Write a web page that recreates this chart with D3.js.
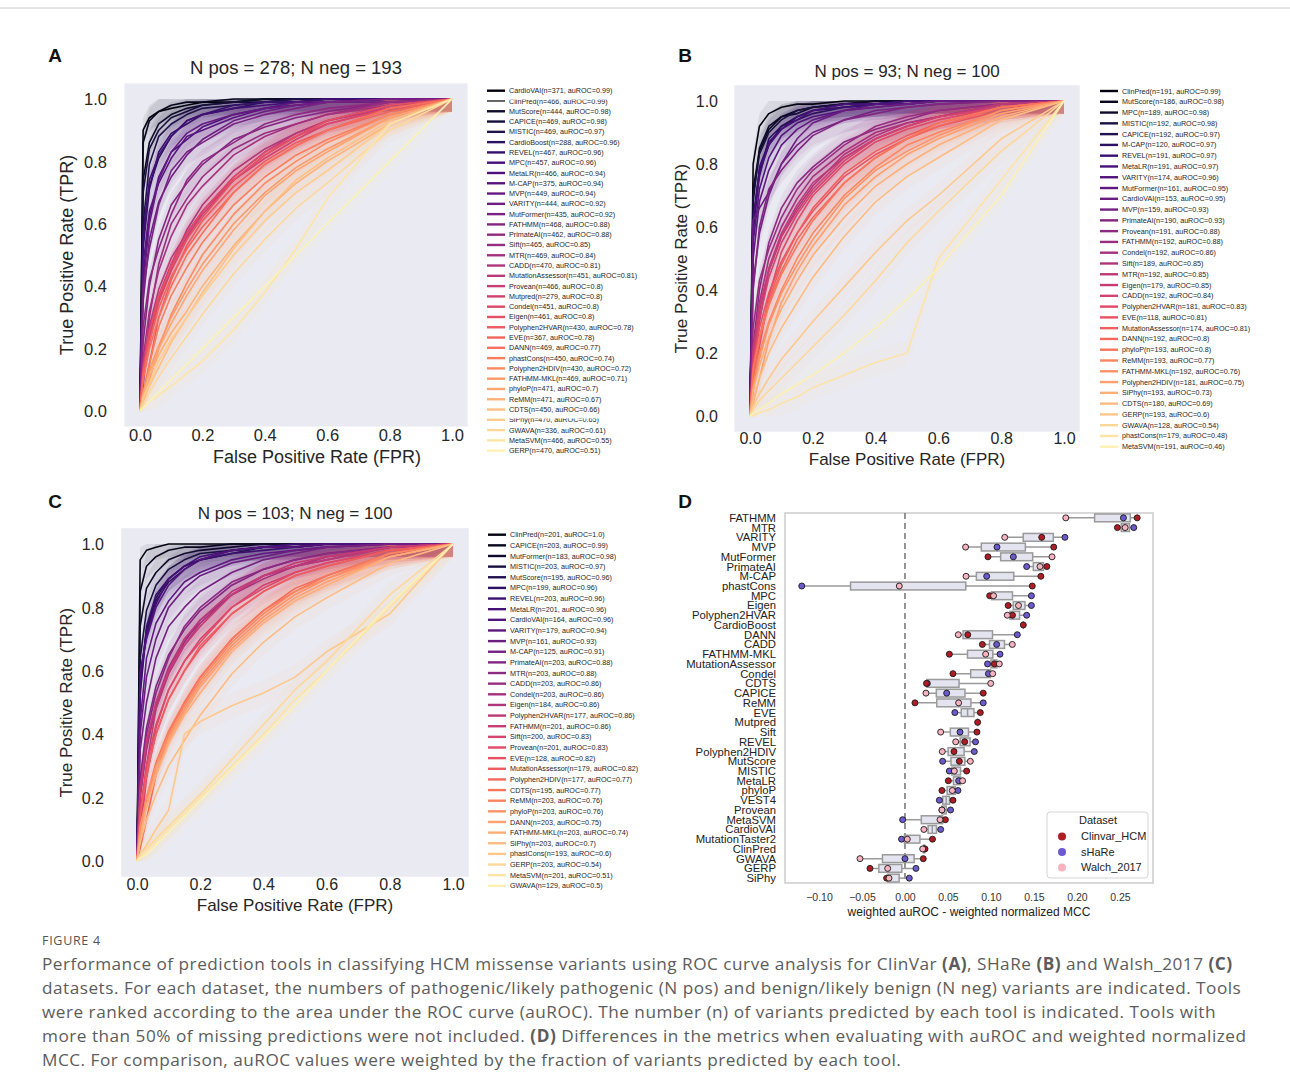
<!DOCTYPE html>
<html>
<head>
<meta charset="utf-8">
<script src="https://cdn.jsdelivr.net/npm/d3@7"></script>
<style>
body { margin: 0; background: #fff; }
text { font-family: "Liberation Sans", Arial, sans-serif; }
</style>
</head>
<body>
<svg id="fig" width="1290" height="1092"></svg>
<script>
var fprGrid = [0, 0.01, 0.03, 0.06, 0.1, 0.15, 0.2, 0.3, 0.4, 0.5, 0.6, 0.8, 1];

// panel A - ClinVar
var toolsA = ["CardioVAI","ClinPred","MutScore","CAPICE","MISTIC","CardioBoost","REVEL","MPC","MetaLR","M-CAP","MVP","VARITY","MutFormer","FATHMM","PrimateAI","Sift","MTR","CADD","MutationAssessor","Provean","Mutpred","Condel","Eigen","Polyphen2HVAR","EVE","DANN","phastCons","Polyphen2HDIV","FATHMM-MKL","phyloP","ReMM","CDTS","SiPhy","GWAVA","MetaSVM","GERP"];
var nA = [371,466,444,469,469,288,467,457,466,375,449,444,435,468,462,465,469,470,451,466,279,451,461,430,367,469,450,430,469,471,471,450,470,336,466,470];
var aucA = ["0.99","0.99","0.98","0.98","0.97","0.96","0.96","0.96","0.94","0.94","0.94","0.92","0.92","0.88","0.88","0.85","0.84","0.81","0.81","0.8","0.8","0.8","0.8","0.78","0.78","0.77","0.74","0.72","0.71","0.7","0.67","0.66","0.65","0.61","0.55","0.51"];
var tprA = [
  [0,.9,.94,.96,.97,.98,.99,.99,1,1,1,1,1],
  [0,.86,.93,.96,.98,.99,.99,1,1,1,1,1,1],
  [0,.74,.86,.92,.95,.97,.98,.99,1,1,1,1,1],
  [0,.7,.84,.9,.94,.96,.98,.99,.99,1,1,1,1],
  [0,.6,.79,.88,.92,.95,.97,.98,.99,1,1,1,1],
  [0,.58,.72,.81,.88,.93,.95,.97,.99,.99,1,1,1],
  [0,.52,.71,.83,.89,.92,.95,.98,.99,.99,1,1,1],
  [0,.55,.74,.82,.88,.93,.95,.97,.98,.99,1,1,1],
  [0,.43,.62,.75,.83,.87,.91,.95,.97,.98,.99,1,1],
  [0,.47,.64,.73,.81,.88,.9,.94,.97,.99,.99,1,1],
  [0,.4,.6,.74,.83,.89,.92,.95,.97,.98,.99,1,1],
  [0,.35,.55,.67,.75,.82,.87,.93,.96,.98,.99,.99,1],
  [0,.39,.52,.66,.77,.83,.86,.92,.95,.97,.99,1,1],
  [0,.22,.4,.55,.66,.73,.79,.87,.91,.94,.96,.99,1],
  [0,.27,.42,.52,.63,.74,.8,.86,.92,.95,.97,.99,1],
  [0,.08,.3,.47,.6,.68,.75,.84,.89,.92,.95,.99,1],
  [0,.17,.32,.45,.56,.66,.72,.82,.88,.92,.95,.98,1],
  [0,.13,.25,.37,.47,.58,.66,.77,.84,.89,.93,.98,1],
  [0,.15,.27,.39,.49,.57,.64,.75,.83,.89,.93,.97,1],
  [0,.12,.24,.36,.46,.56,.63,.74,.82,.88,.93,.98,1],
  [0,.14,.26,.35,.45,.55,.64,.74,.81,.87,.92,.97,1],
  [0,.1,.22,.35,.47,.57,.64,.75,.83,.88,.92,.97,1],
  [0,.13,.25,.37,.46,.55,.62,.74,.82,.88,.93,.98,1],
  [0,.05,.15,.3,.42,.53,.61,.72,.8,.86,.9,.97,1],
  [0,.12,.22,.33,.43,.52,.59,.7,.79,.85,.9,.96,1],
  [0,.1,.2,.3,.4,.5,.57,.7,.79,.85,.9,.97,1],
  [0,.05,.15,.27,.37,.46,.54,.66,.75,.82,.87,.95,1],
  [0,.03,.1,.2,.31,.41,.5,.63,.73,.8,.86,.95,1],
  [0,.06,.13,.21,.3,.39,.47,.6,.7,.78,.84,.94,1],
  [0,.05,.12,.2,.28,.37,.45,.58,.69,.77,.83,.94,1],
  [0,.05,.11,.18,.25,.32,.4,.53,.64,.73,.8,.92,1],
  [0,.03,.08,.14,.22,.3,.38,.52,.64,.74,.81,.93,1],
  [0,.04,.09,.16,.23,.3,.37,.5,.61,.7,.77,.92,1],
  [0,.02,.06,.11,.17,.24,.31,.44,.55,.65,.73,.9,1],
  [0,.01,.03,.05,.08,.12,.16,.26,.38,.52,.68,.92,1],
  [0,.01,.03,.06,.1,.15,.2,.3,.4,.5,.6,.8,1]
];

// panel B - SHaRe
var toolsB = ["ClinPred","MutScore","MPC","MISTIC","CAPICE","M-CAP","REVEL","MetaLR","VARITY","MutFormer","CardioVAI","MVP","PrimateAI","Provean","FATHMM","Condel","Sift","MTR","Eigen","CADD","Polyphen2HVAR","EVE","MutationAssessor","DANN","phyloP","ReMM","FATHMM-MKL","Polyphen2HDIV","SiPhy","CDTS","GERP","GWAVA","phastCons","MetaSVM"];
var nB = [191,186,189,192,192,120,191,191,174,161,153,159,190,191,192,192,189,192,179,192,181,118,174,192,193,193,192,181,193,180,193,128,179,191];
var aucB = ["0.99","0.98","0.98","0.98","0.97","0.97","0.97","0.97","0.96","0.95","0.95","0.93","0.93","0.88","0.88","0.86","0.85","0.85","0.85","0.84","0.83","0.81","0.81","0.8","0.8","0.77","0.76","0.75","0.73","0.69","0.6","0.54","0.48","0.46"];
var tprB = [
  [0,.8,.92,.96,.98,.99,.99,1,1,1,1,1,1],
  [0,.72,.84,.91,.95,.97,.98,.99,1,1,1,1,1],
  [0,.68,.85,.92,.95,.96,.98,.99,1,1,1,1,1],
  [0,.7,.83,.9,.94,.97,.98,.99,.99,1,1,1,1],
  [0,.63,.78,.86,.92,.95,.97,.98,.99,1,1,1,1],
  [0,.6,.76,.88,.92,.94,.96,.98,.99,1,1,1,1],
  [0,.58,.79,.87,.91,.95,.97,.98,.99,.99,1,1,1],
  [0,.62,.77,.86,.91,.94,.97,.99,.99,1,1,1,1],
  [0,.55,.72,.82,.89,.93,.95,.97,.99,.99,1,1,1],
  [0,.5,.68,.78,.86,.91,.94,.97,.98,.99,1,1,1],
  [0,.62,.66,.71,.8,.88,.93,.97,.98,.99,1,1,1],
  [0,.42,.58,.7,.8,.86,.9,.94,.97,.98,.99,1,1],
  [0,.4,.6,.72,.78,.84,.89,.94,.96,.98,.99,1,1],
  [0,.22,.4,.55,.66,.74,.79,.87,.91,.94,.97,.99,1],
  [0,.28,.43,.53,.63,.72,.78,.86,.92,.95,.97,.99,1],
  [0,.2,.36,.5,.6,.69,.76,.84,.9,.93,.95,.99,1],
  [0,.1,.3,.46,.57,.66,.73,.83,.89,.93,.95,.99,1],
  [0,.18,.33,.47,.58,.67,.74,.82,.88,.92,.95,.99,1],
  [0,.21,.35,.46,.57,.65,.72,.82,.88,.92,.95,.98,1],
  [0,.17,.31,.44,.55,.64,.71,.81,.88,.92,.95,.98,1],
  [0,.08,.22,.38,.52,.62,.7,.8,.87,.91,.94,.98,1],
  [0,.16,.28,.39,.49,.58,.65,.76,.83,.88,.92,.97,1],
  [0,.13,.25,.37,.48,.58,.66,.77,.84,.89,.93,.98,1],
  [0,.12,.24,.36,.46,.56,.63,.74,.82,.88,.92,.98,1],
  [0,.15,.25,.35,.45,.54,.62,.74,.82,.88,.93,.98,1],
  [0,.1,.2,.3,.4,.5,.58,.7,.79,.86,.9,.97,1],
  [0,.09,.18,.29,.39,.48,.56,.69,.78,.84,.89,.97,1],
  [0,.04,.12,.24,.36,.46,.54,.67,.76,.83,.88,.96,1],
  [0,.08,.16,.25,.34,.43,.51,.63,.73,.8,.86,.95,1],
  [0,.05,.12,.2,.28,.36,.44,.57,.68,.76,.82,.94,1],
  [0,.03,.07,.12,.18,.24,.3,.41,.52,.62,.7,.88,1],
  [0,.02,.05,.08,.12,.17,.22,.32,.43,.55,.65,.84,1],
  [0,0,.01,.02,.04,.06,.09,.13,.17,.2,.5,.75,1],
  [0,.01,.02,.04,.07,.1,.13,.2,.28,.37,.47,.7,1]
];

// panel C - Walsh_2017
var toolsC = ["ClinPred","CAPICE","MutFormer","MISTIC","MutScore","MPC","REVEL","MetaLR","CardioVAI","VARITY","MVP","M-CAP","PrimateAI","MTR","CADD","Condel","Eigen","Polyphen2HVAR","FATHMM","Sift","Provean","EVE","MutationAssessor","Polyphen2HDIV","CDTS","ReMM","phyloP","DANN","FATHMM-MKL","SiPhy","phastCons","GERP","MetaSVM","GWAVA"];
var nC = [201,203,183,203,195,199,203,201,164,179,161,125,203,203,203,203,184,177,201,200,201,128,179,177,195,203,203,203,203,203,193,203,201,129];
var aucC = ["1.0","0.99","0.98","0.97","0.96","0.96","0.96","0.96","0.96","0.94","0.93","0.91","0.88","0.88","0.86","0.86","0.86","0.86","0.86","0.83","0.83","0.82","0.82","0.77","0.77","0.76","0.76","0.75","0.74","0.7","0.6","0.54","0.51","0.5"];
var tprC = [
  [0,.95,.98,.99,1,1,1,1,1,1,1,1,1],
  [0,.85,.93,.96,.98,.99,.99,1,1,1,1,1,1],
  [0,.74,.86,.91,.95,.97,.98,.99,1,1,1,1,1],
  [0,.64,.79,.87,.92,.95,.97,.98,.99,1,1,1,1],
  [0,.55,.73,.83,.89,.93,.95,.97,.99,.99,1,1,1],
  [0,.58,.72,.82,.88,.92,.95,.98,.99,.99,1,1,1],
  [0,.52,.74,.84,.89,.93,.95,.97,.98,.99,1,1,1],
  [0,.57,.71,.81,.89,.93,.96,.98,.99,1,1,1,1],
  [0,.6,.7,.8,.87,.92,.95,.98,.99,.99,1,1,1],
  [0,.44,.64,.75,.82,.88,.91,.95,.97,.98,.99,1,1],
  [0,.4,.58,.7,.8,.86,.9,.94,.96,.98,.99,1,1],
  [0,.35,.5,.64,.74,.8,.85,.91,.95,.97,.99,1,1],
  [0,.26,.42,.55,.65,.73,.79,.87,.92,.95,.97,.99,1],
  [0,.24,.4,.53,.64,.74,.8,.88,.92,.95,.97,.99,1],
  [0,.21,.36,.49,.6,.69,.76,.84,.9,.93,.96,.99,1],
  [0,.2,.35,.5,.61,.7,.75,.84,.89,.93,.95,.99,1],
  [0,.23,.37,.48,.59,.68,.75,.84,.9,.93,.96,.99,1],
  [0,.1,.3,.48,.6,.7,.76,.85,.9,.93,.95,.99,1],
  [0,.22,.38,.5,.6,.68,.74,.84,.9,.94,.96,.99,1],
  [0,.08,.26,.42,.54,.63,.7,.8,.87,.91,.94,.98,1],
  [0,.16,.3,.43,.54,.63,.69,.8,.86,.91,.94,.98,1],
  [0,.15,.28,.4,.51,.6,.67,.78,.85,.9,.93,.98,1],
  [0,.14,.27,.4,.51,.6,.68,.78,.85,.9,.93,.98,1],
  [0,.04,.13,.27,.4,.5,.58,.7,.79,.86,.9,.97,1],
  [0,.1,.2,.31,.41,.5,.58,.7,.79,.85,.9,.97,1],
  [0,.09,.19,.3,.4,.49,.57,.69,.78,.85,.89,.97,1],
  [0,.11,.2,.3,.39,.48,.56,.68,.77,.84,.89,.96,1],
  [0,.08,.18,.28,.38,.47,.55,.67,.76,.83,.88,.96,1],
  [0,.07,.17,.27,.37,.46,.53,.66,.75,.82,.87,.96,1],
  [0,.06,.13,.21,.3,.38,.46,.59,.69,.77,.83,.94,1],
  [0,.02,.05,.1,.16,.4,.44,.49,.53,.58,.66,.78,1],
  [0,.02,.04,.07,.11,.16,.21,.32,.43,.54,.63,.84,1],
  [0,.01,.03,.06,.1,.15,.2,.3,.4,.51,.6,.8,1],
  [0,.01,.02,.05,.09,.14,.19,.29,.39,.49,.6,.81,1]
];

// panel D - weighted auROC minus weighted normalized MCC, per dataset
var dTools = ["FATHMM","MTR","VARITY","MVP","MutFormer","PrimateAI","M-CAP","phastCons","MPC","Eigen","Polyphen2HVAR","CardioBoost","DANN","CADD","FATHMM-MKL","MutationAssessor","Condel","CDTS","CAPICE","ReMM","EVE","Mutpred","Sift","REVEL","Polyphen2HDIV","MutScore","MISTIC","MetaLR","phyloP","VEST4","Provean","MetaSVM","CardioVAI","MutationTaster2","ClinPred","GWAVA","GERP","SiPhy"];
var dClinvar = [0.270,0.247,0.159,0.173,0.0965,0.165,0.158,0.148,0.0985,0.120,0.125,0.1376,0.073,0.090,0.0516,0.104,0.0558,0.025,0.091,0.0116,0.0876,0.0845,0.0837,0.0694,0.057,0.0632,0.0717,0.0504,0.043,0.0558,0.043,0.047,null,0.032,0.0233,0.0213,-0.0407,-0.0213];
var dShare = [0.254,0.266,0.186,0.107,0.126,0.1415,0.095,-0.120,0.147,0.147,0.1415,null,0.1306,0.1066,0.1105,0.096,0.097,0.026,0.0485,0.091,0.058,null,0.064,0.082,0.0806,0.0438,0.0516,0.0624,0.0616,0.040,0.053,-0.0027,0.0415,-0.004,0.0225,0.0,0.0128,0.005];
var dWalsh = [0.187,0.256,0.116,0.0705,0.171,0.157,0.071,-0.0066,0.103,0.132,0.119,null,0.062,0.1248,0.0938,0.1097,0.102,0.0997,0.0244,0.0624,null,null,0.0415,0.059,0.0434,0.076,0.0574,0.067,0.055,null,0.043,0.0407,0.022,0.0027,0.0206,-0.0523,-0.0201,-0.0186];
var dDatasets = ["Clinvar_HCM","sHaRe","Walch_2017"];
var dColors = ["#b01c24","#6a5acd","#f7b3c0"];
var dTicks = [-0.10,-0.05,0.00,0.05,0.10,0.15,0.20,0.25];

var captionLines = [
  "Performance of prediction tools in classifying HCM missense variants using ROC curve analysis for ClinVar **(A)**, SHaRe **(B)** and Walsh_2017 **(C)**",
  "datasets. For each dataset, the numbers of pathogenic/likely pathogenic (N pos) and benign/likely benign (N neg) variants are indicated. Tools",
  "were ranked according to the area under the ROC curve (auROC). The number (n) of variants predicted by each tool is indicated. Tools with",
  "more than 50% of missing predictions were not included. **(D)** Differences in the metrics when evaluating with auROC and weighted normalized",
  "MCC. For comparison, auROC values were weighted by the fraction of variants predicted by each tool."
];

var ciHalf = 0.04;
var ink = "#262626";
var svg = d3.select("#fig");

svg.append("line").attr("x1", 0).attr("x2", 1290).attr("y1", 8).attr("y2", 8)
  .attr("stroke", "#c8c8c8").attr("stroke-width", 1);

function rocPanel(p) {
  var g = svg.append("g");
  var x = d3.scaleLinear().domain([-0.05, 1.05]).range([p.left, p.right]);
  var y = d3.scaleLinear().domain([-0.05, 1.05]).range([p.bottom, p.top]);
  var k = p.names.length;
  var color = function(i) { return d3.interpolateMagma((i + 1) / (k + 1)); };

  g.append("rect").attr("x", p.left).attr("y", p.top)
    .attr("width", p.right - p.left).attr("height", p.bottom - p.top)
    .attr("fill", "#eaeaf2");

  var band = d3.area()
    .x(function(d, j) { return x(fprGrid[j]); })
    .y0(function(d) { return y(Math.max(0, d - ciHalf)); })
    .y1(function(d) { return y(Math.min(1, d + ciHalf)); });
  var line = d3.line()
    .x(function(d, j) { return x(fprGrid[j]); })
    .y(function(d) { return y(d); });

  g.selectAll("path.band").data(p.tpr).enter().append("path")
    .attr("class", "band")
    .attr("d", band)
    .attr("fill", function(d, i) { return color(i); })
    .attr("opacity", 0.07);

  g.selectAll("path.roc").data(p.tpr).enter().append("path")
    .attr("class", "roc")
    .attr("d", line)
    .attr("fill", "none")
    .attr("stroke", function(d, i) { return color(i); })
    .attr("stroke-width", 1.6)
    .attr("stroke-linejoin", "round");

  var ticks = [0, 0.2, 0.4, 0.6, 0.8, 1.0];
  var xa = g.append("g").attr("transform", "translate(0," + p.bottom + ")")
    .call(d3.axisBottom(x).tickValues(ticks).tickFormat(d3.format(".1f")).tickSize(0));
  xa.select(".domain").remove();
  xa.selectAll("text").attr("y", p.xtY - p.bottom).attr("dy", "0.35em")
    .style("font-size", p.tickSize + "px").attr("fill", ink);

  var ya = g.append("g").attr("transform", "translate(" + p.left + ",0)")
    .call(d3.axisLeft(y).tickValues(ticks).tickFormat(d3.format(".1f")).tickSize(0));
  ya.select(".domain").remove();
  ya.selectAll("text").attr("x", p.ytX - p.left).attr("dy", "0.35em")
    .style("font-size", p.tickSize + "px").attr("fill", ink);

  g.append("text").attr("x", p.titleX).attr("y", p.titleY).attr("dy", "0.35em")
    .attr("text-anchor", "middle").style("font-size", p.titleSize + "px").attr("fill", ink)
    .text(p.title);
  g.append("text").attr("x", p.xlabX).attr("y", p.xlabY).attr("dy", "0.35em")
    .attr("text-anchor", "middle").style("font-size", p.labSize + "px").attr("fill", ink)
    .text("False Positive Rate (FPR)");
  g.append("text")
    .attr("transform", "translate(" + p.ylabX + "," + ((p.top + p.bottom) / 2) + ") rotate(-90)")
    .attr("dy", "0.35em").attr("text-anchor", "middle")
    .style("font-size", p.labSize + "px").attr("fill", ink)
    .text("True Positive Rate (TPR)");

  g.append("text").attr("x", p.letterX).attr("y", p.letterY).attr("dy", "0.35em")
    .attr("text-anchor", "middle").style("font-size", "19px").style("font-weight", "bold")
    .attr("fill", "#111").text(p.letter);

  // legend
  var lg = g.append("g");
  p.names.forEach(function(name, i) {
    var ly = p.legY + i * p.legStep;
    var thin = p.cut && p.cut.indexOf(name) >= 0 && i < 3;
    lg.append("line").attr("x1", p.legX).attr("x2", p.legX + 18)
      .attr("y1", ly).attr("y2", ly)
      .attr("stroke", thin ? "#000" : color(i)).attr("stroke-width", thin ? 1.2 : 2.4);
    lg.append("text").attr("x", p.legX + 22).attr("y", ly).attr("dy", "0.35em")
      .style("font-size", "7.2px").attr("fill", ink)
      .text(name + "(n=" + p.n[i] + ", auROC=" + p.auc[i] + ")");
    if (p.cut && p.cut.indexOf(name) >= 0) {
      lg.append("rect").attr("x", p.legX + 21).attr("y", ly - 5)
        .attr("width", 130).attr("height", 3.6).attr("fill", "#fff");
    }
  });
}

rocPanel({
  names: toolsA, n: nA, auc: aucA, tpr: tprA, cut: ["ClinPred", "SiPhy"],
  left: 124.4, right: 467.6, top: 83.4, bottom: 426.6,
  title: "N pos = 278; N neg = 193", titleX: 296, titleY: 68, titleSize: 18.5,
  tickSize: 16.5, xtY: 435, ytX: 107,
  labSize: 18, xlabX: 317, xlabY: 457, ylabX: 67,
  letter: "A", letterX: 55, letterY: 55,
  legX: 487, legY: 90.7, legStep: 10.285
});
rocPanel({
  names: toolsB, n: nB, auc: aucB, tpr: tprB,
  left: 734.3, right: 1079.7, top: 85.25, bottom: 431.75,
  title: "N pos = 93; N neg = 100", titleX: 907, titleY: 71, titleSize: 17,
  tickSize: 16, xtY: 438, ytX: 718,
  labSize: 17, xlabX: 907, xlabY: 459, ylabX: 681,
  letter: "B", letterX: 685, letterY: 55,
  legX: 1100, legY: 91, legStep: 10.78
});
rocPanel({
  names: toolsC, n: nC, auc: aucC, tpr: tprC,
  left: 121.2, right: 468.8, top: 528.15, bottom: 876.85,
  title: "N pos = 103; N neg = 100", titleX: 295, titleY: 513, titleSize: 17,
  tickSize: 16, xtY: 884, ytX: 104,
  labSize: 17, xlabX: 295, xlabY: 905, ylabX: 66,
  letter: "C", letterX: 55, letterY: 501,
  legX: 488, legY: 534.7, legStep: 10.64
});

// panel D
(function() {
  var left = 785, right = 1153, top = 513, bottom = 883;
  var x = d3.scaleLinear().domain([-0.1395, 0.2884]).range([left, right]);
  var yb = d3.scaleBand().domain(dTools).range([top, bottom]);
  var g = svg.append("g");
  var boxH = yb.bandwidth() * 0.8;

  g.append("rect").attr("x", left).attr("y", top).attr("width", right - left).attr("height", bottom - top)
    .attr("fill", "#fff").attr("stroke", "#cfcfcf").attr("stroke-width", 1.6);

  g.append("line").attr("x1", x(0)).attr("x2", x(0)).attr("y1", top).attr("y2", bottom)
    .attr("stroke", "#8a8a8a").attr("stroke-width", 1.8).attr("stroke-dasharray", "6,4");

  dTools.forEach(function(t, i) {
    var vals = [dClinvar[i], dShare[i], dWalsh[i]].filter(function(v) { return v != null; }).sort(d3.ascending);
    var cy = yb(t) + yb.bandwidth() / 2;
    var q1 = d3.quantileSorted(vals, 0.25), med = d3.quantileSorted(vals, 0.5), q3 = d3.quantileSorted(vals, 0.75);
    g.append("line").attr("x1", x(vals[0])).attr("x2", x(vals[vals.length - 1]))
      .attr("y1", cy).attr("y2", cy).attr("stroke", "#9a9a9a").attr("stroke-width", 1.5);
    g.append("rect").attr("x", x(q1)).attr("y", cy - boxH / 2)
      .attr("width", Math.max(0, x(q3) - x(q1))).attr("height", boxH)
      .attr("fill", "#e4e4f0").attr("stroke", "#9a9a9a").attr("stroke-width", 1.5);
    g.append("line").attr("x1", x(med)).attr("x2", x(med))
      .attr("y1", cy - boxH / 2).attr("y2", cy + boxH / 2)
      .attr("stroke", "#9a9a9a").attr("stroke-width", 1.5);
  });

  // dots: sHaRe, then ClinVar, then Walsh on top
  var series = [[dShare, 1], [dClinvar, 0], [dWalsh, 2]];
  series.forEach(function(s) {
    s[0].forEach(function(v, i) {
      if (v == null) return;
      g.append("circle").attr("cx", x(v)).attr("cy", yb(dTools[i]) + yb.bandwidth() / 2)
        .attr("r", 3).attr("fill", dColors[s[1]]).attr("stroke", "#1a1a1a").attr("stroke-width", 0.9);
    });
  });

  g.selectAll("text.ylab").data(dTools).enter().append("text")
    .attr("class", "ylab")
    .attr("x", 776).attr("y", function(d) { return yb(d) + yb.bandwidth() / 2; })
    .attr("dy", "0.35em").attr("text-anchor", "end")
    .style("font-size", "11.3px").attr("fill", "#222").text(function(d) { return d; });

  var xa = g.append("g").attr("transform", "translate(0," + bottom + ")")
    .call(d3.axisBottom(x).tickValues(dTicks).tickFormat(d3.format(".2f")).tickSize(0));
  xa.select(".domain").remove();
  xa.selectAll("text").attr("y", 14).attr("dy", "0.35em").style("font-size", "10.5px").attr("fill", "#333");

  g.append("text").attr("x", (left + right) / 2).attr("y", 912).attr("dy", "0.35em")
    .attr("text-anchor", "middle").style("font-size", "12px").attr("fill", "#222")
    .text("weighted auROC - weighted normalized MCC");

  g.append("text").attr("x", 685).attr("y", 501).attr("dy", "0.35em")
    .attr("text-anchor", "middle").style("font-size", "19px").style("font-weight", "bold")
    .attr("fill", "#111").text("D");

  var lg = g.append("g");
  lg.append("rect").attr("x", 1047).attr("y", 812).attr("width", 101).attr("height", 66)
    .attr("rx", 3).attr("fill", "#fff").attr("stroke", "#d5d5d5");
  lg.append("text").attr("x", 1098).attr("y", 820.5).attr("dy", "0.35em").attr("text-anchor", "middle")
    .style("font-size", "11px").attr("fill", "#222").text("Dataset");
  dDatasets.forEach(function(name, i) {
    var ly = 836.5 + i * 15.5;
    lg.append("circle").attr("cx", 1062).attr("cy", ly).attr("r", 4).attr("fill", dColors[i]);
    lg.append("text").attr("x", 1081).attr("y", ly).attr("dy", "0.35em")
      .style("font-size", "11px").attr("fill", "#222").text(name);
  });
})();

// caption
svg.append("text").attr("x", 42).attr("y", 941).attr("dy", "0.35em")
  .style("font-size", "12.5px").style("letter-spacing", "0.7px").attr("fill", "#555")
  .style("font-family", "'Open Sans', sans-serif").text("FIGURE 4");
captionLines.forEach(function(line, i) {
  var t = svg.append("text").attr("x", 42).attr("y", 964 + i * 24).attr("dy", "0.35em")
    .style("font-size", "17.2px").style("letter-spacing", "0.5px").attr("fill", "#5c5c5c")
    .style("font-family", "'Open Sans', sans-serif");
  line.split("**").forEach(function(seg, j) {
    t.append("tspan").style("font-weight", j % 2 ? "bold" : "normal").text(seg);
  });
});
</script>
</body>
</html>
